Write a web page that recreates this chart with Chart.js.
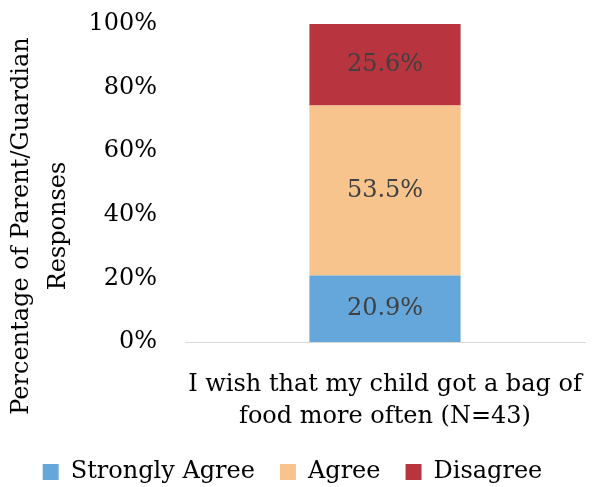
<!DOCTYPE html>
<html>
<head>
<meta charset="utf-8">
<script src="https://cdn.jsdelivr.net/npm/chart.js@4.4.0/dist/chart.umd.min.js"></script>
<style>
  html, body { margin: 0; padding: 0; background: #fff; }
  #wrap { width: 594px; height: 487px; }
</style>
</head>
<body>
<div id="wrap"><canvas id="chart" width="594" height="487"></canvas></div>
<script>
const categories = [["I wish that my child got a bag of", "food more often (N=43)"]];
const seriesNames = ["Strongly Agree", "Agree", "Disagree"];
const strongly = [20.9];
const agree = [53.5];
const disagree = [25.6];
const seriesColors = ["#65A7DA", "#F7C48D", "#B8353F"];
const yTicks = [0, 20, 40, 60, 80, 100];
const yTitle = ["Percentage of Parent/Guardian", "Responses"];

const FONT = "'DejaVu Serif', serif";
const FS = 24;

// value text in the middle of each segment
const valueLabels = {
  id: "valueLabels",
  afterDatasetsDraw(chart) {
    const ctx = chart.ctx;
    ctx.save();
    ctx.font = FS + "px " + FONT;
    ctx.fillStyle = "#404040";
    ctx.textAlign = "center";
    ctx.textBaseline = "middle";
    chart.data.datasets.forEach((ds, i) => {
      chart.getDatasetMeta(i).data.forEach((bar, j) => {
        const mid = (bar.y + bar.base) / 2;
        ctx.fillText(ds.data[j].toFixed(1) + "%", bar.x, mid);
      });
    });
    ctx.restore();
  }
};

// two-line rotated axis title
const yAxisTitle = {
  id: "yAxisTitle",
  afterDraw(chart) {
    const ctx = chart.ctx;
    ctx.save();
    ctx.font = FS + "px " + FONT;
    ctx.fillStyle = "#000";
    ctx.textAlign = "center";
    ctx.textBaseline = "middle";
    ctx.translate(0, 226);
    ctx.rotate(-Math.PI / 2);
    ctx.fillText(yTitle[0], 0, 22);
    ctx.fillText(yTitle[1], 0, 59);
    ctx.restore();
  }
};

new Chart(document.getElementById("chart"), {
  type: "bar",
  data: {
    labels: categories,
    datasets: [
      { label: seriesNames[0], data: strongly, backgroundColor: seriesColors[0] },
      { label: seriesNames[1], data: agree, backgroundColor: seriesColors[1] },
      { label: seriesNames[2], data: disagree, backgroundColor: seriesColors[2] }
    ]
  },
  options: {
    responsive: false,
    animation: false,
    barPercentage: 0.378,
    categoryPercentage: 1,
    layout: { padding: { top: 24, right: 9, left: 0, bottom: -7 } },
    scales: {
      x: {
        stacked: true,
        grid: { display: false, drawTicks: false },
        border: { color: "#D9D9D9", width: 1 },
        ticks: {
          color: "#000",
          font: { family: FONT, size: FS, lineHeight: 1.33 },
          padding: 27,
          maxRotation: 0
        },
        afterFit(scale) {
          scale.height = 93;
          scale.paddingLeft = 0;
          scale.paddingRight = 0;
        }
      },
      y: {
        stacked: true,
        min: 0,
        max: 100,
        afterBuildTicks(scale) { scale.ticks = yTicks.map(v => ({ value: v })); },
        grid: { display: false, drawTicks: false },
        border: { display: false },
        ticks: {
          color: "#000",
          font: { family: FONT, size: FS },
          padding: 28,
          callback: v => v + "%"
        },
        afterFit(scale) {
          scale.width = 185;
          scale.paddingTop = 0;
          scale.paddingBottom = 0;
        }
      }
    },
    plugins: {
      legend: {
        position: "bottom",
        labels: {
          color: "#000",
          font: { family: FONT, size: FS },
          boxWidth: 16,
          boxHeight: 16,
          padding: 25
        }
      },
      tooltip: { enabled: false }
    }
  },
  plugins: [valueLabels, yAxisTitle]
});
</script>
</body>
</html>
